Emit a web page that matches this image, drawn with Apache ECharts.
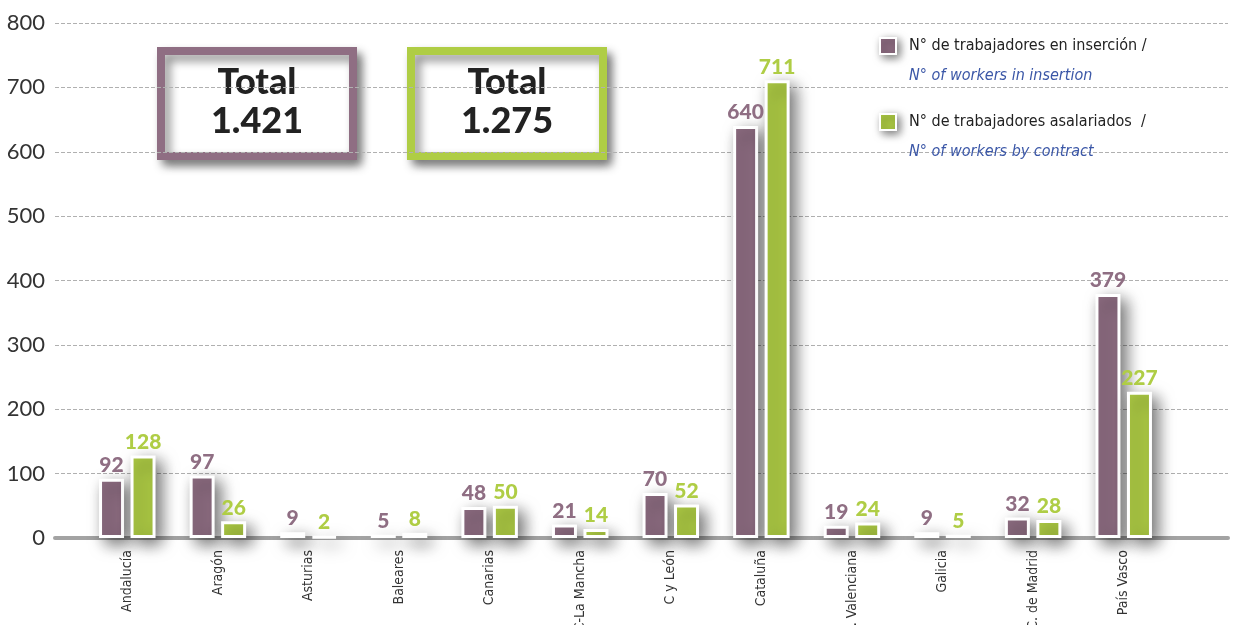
<!DOCTYPE html>
<html>
<head>
<meta charset="utf-8">
<script src="https://cdn.jsdelivr.net/npm/echarts@6/dist/echarts.min.js"></script>
<style>
  html, body { margin: 0; padding: 0; background: #fff; }
  #chart { width: 1252px; height: 625px; }
</style>
</head>
<body>
<div id="chart"></div>
<script>
// regions
var regions = ["Andalucía", "Aragón", "Asturias", "Baleares", "Canarias", "C-La Mancha",
  "C y León", "Cataluña", "C. Valenciana", "Galicia", "C. de Madrid", "País Vasco"];
// N° de trabajadores en inserción
var insercion = [92, 97, 9, 5, 48, 21, 70, 640, 19, 9, 32, 379];
// N° de trabajadores asalariados
var asalariados = [128, 26, 2, 8, 50, 14, 52, 711, 24, 5, 28, 227];
var yTicks = [0, 100, 200, 300, 400, 500, 600, 700, 800];

var PURPLE = "#8f6e83";
var GREEN = "#afcd45";
var NARROW = "'Liberation Sans Narrow', 'DejaVu Sans Condensed', 'Noto Sans', sans-serif";

function sum(arr) {
  var s = 0;
  for (var i = 0; i < arr.length; i++) s += arr[i];
  return s;
}
// 1421 -> "1.421"
function fmt(n) {
  return String(n).replace(/\B(?=(\d{3})+(?!\d))/g, ".");
}

function totalBox(x, color, total) {
  return {
    type: "group",
    left: x,
    top: 47,
    children: [
      {
        type: "rect",
        shape: { x: 4, y: 4, width: 192, height: 105 },
        style: {
          fill: "#fff", stroke: color, lineWidth: 8,
          shadowBlur: 10, shadowOffsetX: 5, shadowOffsetY: 6,
          shadowColor: "rgba(0,0,0,0.45)"
        }
      },
      {
        type: "text",
        x: 100, y: 35,
        style: {
          text: "Total", fill: "#222", font: "900 36px Lato, 'DejaVu Sans'",
          align: "center", verticalAlign: "middle"
        }
      },
      {
        type: "text",
        x: 100, y: 74,
        style: {
          text: fmt(total), fill: "#222", font: "900 36px Lato, 'DejaVu Sans'",
          align: "center", verticalAlign: "middle"
        }
      }
    ]
  };
}

var barStyle = function (color) {
  return {
    color: color,
    borderColor: "#fff",
    borderWidth: 3,
    shadowBlur: 16,
    shadowOffsetX: 6,
    shadowOffsetY: 6,
    shadowColor: "rgba(0,0,0,0.55)"
  };
};
var labelStyle = function (color) {
  return {
    show: true,
    position: "top",
    distance: 3,
    color: color,
    fontSize: 21,
    fontWeight: 900,
    fontFamily: "Lato, 'DejaVu Sans'"
  };
};

var legendFmt = {
  "insercion": ["N° de trabajadores en inserción /", "N° of workers in insertion"],
  "asalariados": ["N° de trabajadores asalariados  /", "N° of workers by contract"]
};
var legendIcon = function (color) {
  return { color: color, borderColor: "#fff", borderWidth: 2, shadowBlur: 8, shadowOffsetX: 3, shadowOffsetY: 3, shadowColor: "rgba(0,0,0,0.5)" };
};

var myChart = echarts.init(document.getElementById("chart"));
var option = {
  animation: false,
  grid: [
    { left: 55, right: 24, top: 23, bottom: 87, outerBoundsMode: "none" },
    { left: 82, right: 83, top: 23, bottom: 87, outerBoundsMode: "none" }
  ],
  xAxis: [
    {
      gridIndex: 0,
      type: "value",
      min: 0,
      max: 1,
      axisLabel: { show: false },
      axisTick: { show: false },
      splitLine: { show: false },
      axisLine: { show: true, lineStyle: { color: "#a3a3a3", width: 4 } }
    },
    {
      gridIndex: 1,
      type: "category",
      data: regions,
      axisLine: { show: false },
      axisTick: { show: false },
      axisLabel: {
        rotate: 90,
        margin: 12,
        color: "#333",
        fontSize: 14,
        fontFamily: NARROW,
        interval: 0
      }
    }
  ],
  yAxis: [
    {
      gridIndex: 0,
      type: "value",
      min: yTicks[0],
      max: yTicks[yTicks.length - 1],
      interval: 100,
      axisLine: { show: false },
      axisTick: { show: false },
      axisLabel: { color: "#333", fontSize: 22, fontFamily: "Lato, sans-serif", margin: 10 },
      splitLine: { lineStyle: { color: "#b0b0b0", type: [4, 2], width: 1 } }
    },
    {
      gridIndex: 1,
      type: "value",
      min: yTicks[0],
      max: yTicks[yTicks.length - 1],
      show: false,
      splitLine: { show: false }
    }
  ],
  legend: {
    orient: "vertical",
    left: 874,
    top: 3,
    itemWidth: 16,
    itemHeight: 16,
    itemGap: 0,
    icon: "rect",
    selectedMode: false,
    data: [
      { name: "insercion", itemStyle: legendIcon(PURPLE) },
      { name: "asalariados", itemStyle: legendIcon(GREEN) }
    ],
    formatter: function (name) {
      var t = legendFmt[name];
      return "{s| }\n{a|" + t[0] + "}\n{b|" + t[1] + "}";
    },
    textStyle: {
      padding: [0, 0, 0, 8],
      rich: {
        s: { fontSize: 16, lineHeight: 30 },
        a: { fontSize: 16, lineHeight: 30, color: "#222", fontFamily: NARROW },
        b: { fontSize: 16, lineHeight: 30, color: "#3b57a7", fontStyle: "italic", fontFamily: NARROW }
      }
    }
  },
  graphic: [
    totalBox(157, PURPLE, sum(insercion)),
    totalBox(407, GREEN, sum(asalariados))
  ],
  series: [
    {
      name: "insercion",
      type: "bar",
      xAxisIndex: 1,
      yAxisIndex: 1,
      data: insercion,
      barWidth: 25,
      barGap: "26%",
      itemStyle: barStyle(PURPLE),
      label: labelStyle(PURPLE)
    },
    {
      name: "asalariados",
      type: "bar",
      xAxisIndex: 1,
      yAxisIndex: 1,
      data: asalariados,
      barWidth: 25,
      itemStyle: barStyle(GREEN),
      label: labelStyle(GREEN)
    }
  ]
};
myChart.setOption(option);
</script>
</body>
</html>
